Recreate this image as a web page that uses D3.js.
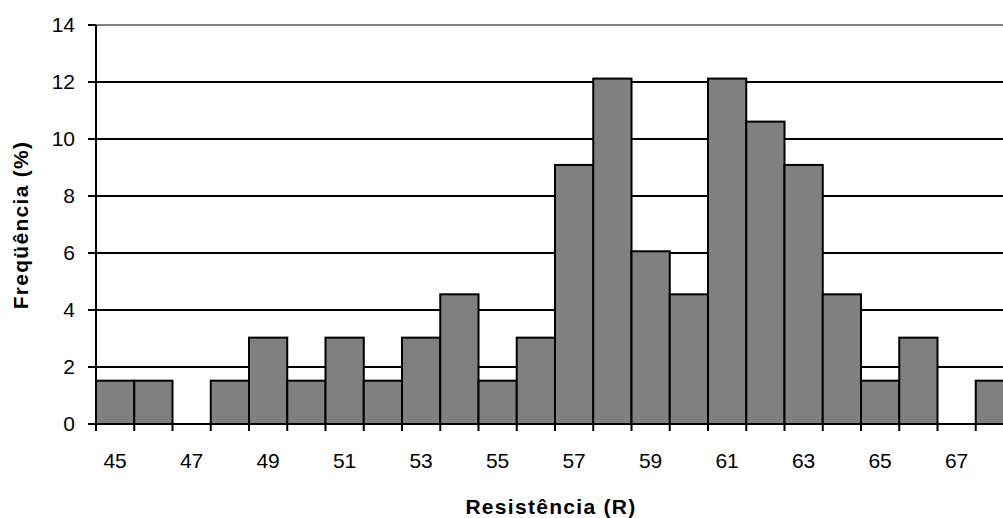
<!DOCTYPE html>
<html>
<head>
<meta charset="utf-8">
<script src="https://cdn.jsdelivr.net/npm/d3@7"></script>
<style>
  html, body { margin: 0; padding: 0; background: #fff; }
  svg { display: block; font-family: "Liberation Sans", Arial, sans-serif; }
</style>
</head>
<body>
<svg id="chart" width="1003" height="518"></svg>
<script>
const categories = [45,46,47,48,49,50,51,52,53,54,55,56,57,58,59,60,61,62,63,64,65,66,67,68];
const values = [1.52,1.52,0,1.52,3.03,1.52,3.03,1.52,3.03,4.55,1.52,3.03,9.09,12.12,6.06,4.55,12.12,10.61,9.09,4.55,1.52,3.03,0,1.52];
const yTicks = [0,2,4,6,8,10,12,14];
const xLabels = [45,47,49,51,53,55,57,59,61,63,65,67];

const svg = d3.select("#chart");
const plotLeft = 96, plotRight = 1014, plotTop = 25, plotBottom = 424;

const x = d3.scaleBand().domain(categories).range([plotLeft, plotRight]).padding(0);
const y = d3.scaleLinear().domain([0, 14]).range([plotBottom, plotTop]);

// gridlines
svg.append("g").selectAll("line").data(yTicks.filter(d => d > 0)).join("line")
  .attr("x1", plotLeft).attr("x2", plotRight)
  .attr("y1", d => y(d)).attr("y2", d => y(d))
  .attr("stroke", d => d === 14 ? "#808080" : "#000")
  .attr("stroke-width", 2);

// bars
svg.append("g").selectAll("rect").data(values.map((v, i) => ({c: categories[i], v})).filter(d => d.v > 0)).join("rect")
  .attr("x", d => x(d.c))
  .attr("y", d => y(d.v))
  .attr("width", x.bandwidth())
  .attr("height", d => y(0) - y(d.v))
  .attr("fill", "#808080")
  .attr("stroke", "#000")
  .attr("stroke-width", 2);

// y axis
const yAxis = svg.append("g");
yAxis.append("line").attr("x1", plotLeft).attr("x2", plotLeft).attr("y1", y(14)).attr("y2", y(0) + 7)
  .attr("stroke", "#000").attr("stroke-width", 2);
yAxis.selectAll("line.t").data(yTicks).join("line").attr("class", "t")
  .attr("x1", plotLeft - 8).attr("x2", plotLeft)
  .attr("y1", d => y(d)).attr("y2", d => y(d))
  .attr("stroke", "#000").attr("stroke-width", 2);
yAxis.selectAll("text").data(yTicks).join("text")
  .attr("x", 75).attr("y", d => y(d)).attr("dy", "0.35em")
  .attr("text-anchor", "end").attr("font-size", 21).text(d => d);

// x axis
const xAxis = svg.append("g");
xAxis.append("line").attr("x1", plotLeft - 8).attr("x2", plotRight).attr("y1", y(0)).attr("y2", y(0))
  .attr("stroke", "#000").attr("stroke-width", 2);
xAxis.selectAll("line.t").data(categories.concat(["end"])).join("line").attr("class", "t")
  .attr("x1", d => d === "end" ? plotRight : x(d)).attr("x2", d => d === "end" ? plotRight : x(d))
  .attr("y1", y(0)).attr("y2", y(0) + 7)
  .attr("stroke", "#000").attr("stroke-width", 2);
xAxis.selectAll("text").data(xLabels).join("text")
  .attr("x", d => x(d) + x.bandwidth() / 2).attr("y", 460.5).attr("dy", "0.35em")
  .attr("text-anchor", "middle").attr("font-size", 21).text(d => d);

// titles
svg.append("text").attr("x", 551).attr("y", 507).attr("dy", "0.35em")
  .attr("text-anchor", "middle").attr("font-size", 21).attr("font-weight", "bold").attr("letter-spacing", 1.3)
  .text("Resistência (R)");
svg.append("text").attr("transform", "translate(21,225) rotate(-90)").attr("dy", "0.35em")
  .attr("text-anchor", "middle").attr("font-size", 21).attr("font-weight", "bold").attr("letter-spacing", 1.3)
  .text("Freqüência (%)");
</script>
</body>
</html>
